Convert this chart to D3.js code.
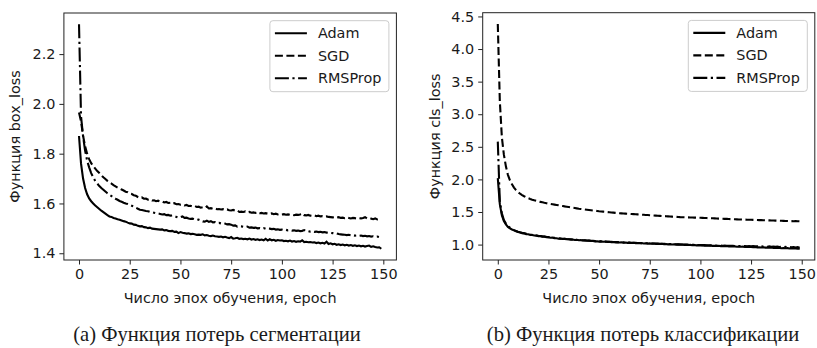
<!DOCTYPE html>
<html>
<head>
<meta charset="utf-8">
<script src="https://cdn.jsdelivr.net/npm/d3@7"></script>
<style>
  body { margin: 0; background: #fff; }
  text { font-family: "DejaVu Sans", sans-serif; fill: #1a1a1a; }
  .caption { font-family: "Liberation Serif", "DejaVu Serif", serif; }
</style>
</head>
<body>
<div id="chart"></div>
<script>
// эпохи 0..149
var epochs = d3.range(0, 150);
var xTicks = [0, 25, 50, 75, 100, 125, 150];
var seriesNames = ["Adam", "SGD", "RMSProp"];

// (a) box_loss
var adamBox = [
1.871,1.760,1.700,1.662,1.637,1.620,1.609,1.600,1.592,1.585,
1.578,1.571,1.565,1.559,1.553,1.548,1.546,1.542,1.540,1.537,
1.535,1.532,1.529,1.527,1.523,1.520,1.519,1.515,1.514,1.510,
1.508,1.509,1.505,1.504,1.501,1.503,1.499,1.498,1.497,1.496,
1.495,1.496,1.492,1.493,1.490,1.489,1.490,1.486,1.487,1.481,
1.485,1.482,1.481,1.479,1.480,1.477,1.478,1.476,1.474,1.475,
1.474,1.476,1.472,1.473,1.470,1.469,1.471,1.468,1.467,1.466,
1.467,1.464,1.466,1.463,1.461,1.465,1.459,1.460,1.462,1.458,
1.459,1.457,1.458,1.456,1.459,1.455,1.457,1.454,1.456,1.453,
1.455,1.452,1.458,1.451,1.456,1.452,1.454,1.450,1.453,1.451,
1.452,1.449,1.450,1.448,1.451,1.447,1.449,1.446,1.448,1.447,
1.452,1.445,1.446,1.444,1.445,1.443,1.444,1.441,1.443,1.440,
1.442,1.439,1.446,1.437,1.440,1.436,1.438,1.434,1.436,1.433,
1.435,1.432,1.434,1.431,1.433,1.430,1.432,1.429,1.431,1.428,
1.430,1.427,1.429,1.431,1.426,1.428,1.425,1.423,1.424,1.418];

var sgdBox = [
1.965,1.930,1.872,1.830,1.800,1.778,1.762,1.750,1.740,1.730,
1.722,1.713,1.705,1.698,1.691,1.685,1.680,1.674,1.669,1.664,
1.660,1.656,1.652,1.647,1.645,1.640,1.638,1.633,1.631,1.626,
1.622,1.624,1.619,1.620,1.615,1.617,1.612,1.613,1.609,1.611,
1.607,1.608,1.604,1.606,1.602,1.603,1.598,1.601,1.597,1.598,
1.595,1.596,1.592,1.594,1.590,1.591,1.588,1.590,1.586,1.587,
1.583,1.585,1.582,1.588,1.580,1.581,1.578,1.580,1.577,1.578,
1.576,1.577,1.574,1.576,1.573,1.572,1.574,1.571,1.573,1.566,
1.567,1.566,1.568,1.564,1.566,1.563,1.564,1.562,1.565,1.561,
1.562,1.560,1.561,1.559,1.558,1.560,1.557,1.559,1.556,1.558,
1.556,1.557,1.555,1.556,1.554,1.555,1.553,1.555,1.554,1.556,
1.560,1.553,1.552,1.554,1.551,1.550,1.552,1.549,1.551,1.548,
1.549,1.547,1.548,1.546,1.545,1.544,1.546,1.543,1.545,1.542,
1.543,1.541,1.544,1.542,1.540,1.542,1.541,1.539,1.541,1.540,
1.542,1.545,1.540,1.538,1.539,1.537,1.540,1.536,1.538,1.539];

var rmsBox = [
2.320,1.950,1.870,1.812,1.772,1.745,1.722,1.705,1.690,1.680,
1.670,1.662,1.655,1.648,1.641,1.635,1.630,1.624,1.619,1.615,
1.610,1.607,1.603,1.600,1.598,1.595,1.591,1.587,1.583,1.579,
1.575,1.574,1.572,1.570,1.569,1.566,1.565,1.563,1.561,1.560,
1.558,1.556,1.557,1.553,1.554,1.551,1.552,1.549,1.546,1.543,
1.545,1.548,1.542,1.543,1.540,1.538,1.539,1.536,1.534,1.535,
1.532,1.528,1.527,1.531,1.526,1.529,1.524,1.525,1.521,1.522,
1.520,1.518,1.519,1.516,1.517,1.515,1.511,1.512,1.507,1.509,
1.508,1.506,1.505,1.507,1.503,1.504,1.502,1.503,1.500,1.501,
1.499,1.501,1.498,1.500,1.499,1.497,1.498,1.495,1.496,1.494,
1.495,1.493,1.494,1.492,1.493,1.491,1.492,1.490,1.491,1.489,
1.490,1.493,1.488,1.489,1.487,1.488,1.486,1.487,1.485,1.486,
1.484,1.485,1.483,1.484,1.482,1.481,1.479,1.480,1.477,1.476,
1.475,1.474,1.473,1.474,1.472,1.473,1.471,1.472,1.470,1.471,
1.469,1.470,1.468,1.469,1.467,1.468,1.466,1.467,1.465,1.466];
var boxTicks = [1.4, 1.6, 1.8, 2.0, 2.2];

// (b) cls_loss
var adamCls = [
2.020,1.620,1.450,1.362,1.310,1.272,1.250,1.232,1.218,1.204,
1.192,1.187,1.176,1.172,1.161,1.158,1.149,1.148,1.139,1.138,
1.130,1.130,1.122,1.122,1.113,1.113,1.105,1.106,1.098,1.098,
1.090,1.092,1.086,1.087,1.081,1.082,1.076,1.078,1.071,1.073,
1.066,1.068,1.062,1.064,1.058,1.060,1.054,1.056,1.050,1.052,
1.046,1.049,1.043,1.046,1.040,1.043,1.037,1.040,1.034,1.037,
1.032,1.035,1.029,1.032,1.027,1.030,1.024,1.027,1.022,1.025,
1.020,1.023,1.017,1.020,1.015,1.018,1.013,1.016,1.011,1.014,
1.009,1.012,1.006,1.009,1.004,1.007,1.002,1.005,1.000,1.003,
0.997,1.000,0.995,0.998,0.993,0.996,0.991,0.994,0.988,0.991,
0.986,0.989,0.984,0.987,0.982,0.985,0.980,0.983,0.978,0.981,
0.976,0.979,0.974,0.977,0.972,0.975,0.970,0.973,0.968,0.971,
0.966,0.969,0.964,0.967,0.962,0.964,0.959,0.962,0.957,0.960,
0.955,0.958,0.953,0.956,0.951,0.954,0.949,0.952,0.947,0.950,
0.945,0.948,0.943,0.946,0.941,0.944,0.939,0.941,0.936,0.936];

var sgdCls = [
4.385,3.200,2.650,2.380,2.200,2.070,1.985,1.925,1.875,1.835,
1.805,1.780,1.760,1.742,1.726,1.712,1.700,1.689,1.679,1.670,
1.662,1.655,1.648,1.641,1.635,1.629,1.623,1.618,1.613,1.608,
1.603,1.597,1.592,1.586,1.581,1.576,1.571,1.566,1.561,1.556,
1.551,1.547,1.543,1.539,1.535,1.531,1.527,1.523,1.519,1.515,
1.511,1.508,1.505,1.502,1.499,1.496,1.493,1.490,1.487,1.484,
1.481,1.479,1.477,1.475,1.473,1.471,1.469,1.467,1.465,1.463,
1.461,1.459,1.457,1.455,1.453,1.451,1.449,1.447,1.445,1.443,
1.441,1.439,1.437,1.435,1.433,1.431,1.429,1.427,1.425,1.423,
1.421,1.420,1.419,1.418,1.417,1.416,1.415,1.414,1.413,1.412,
1.411,1.410,1.408,1.407,1.406,1.404,1.403,1.402,1.400,1.399,
1.398,1.396,1.395,1.394,1.392,1.391,1.390,1.388,1.387,1.386,
1.385,1.384,1.383,1.382,1.381,1.380,1.379,1.378,1.377,1.376,
1.375,1.374,1.373,1.372,1.371,1.370,1.369,1.368,1.367,1.366,
1.365,1.364,1.363,1.362,1.361,1.360,1.359,1.360,1.358,1.357];

var rmsCls = [
2.580,1.660,1.480,1.378,1.322,1.285,1.258,1.240,1.222,1.210,
1.198,1.188,1.180,1.175,1.166,1.160,1.154,1.150,1.144,1.140,
1.134,1.131,1.126,1.123,1.118,1.114,1.110,1.106,1.103,1.099,
1.095,1.092,1.090,1.088,1.085,1.083,1.081,1.078,1.076,1.073,
1.071,1.069,1.066,1.065,1.062,1.061,1.058,1.057,1.054,1.053,
1.051,1.049,1.048,1.046,1.045,1.043,1.042,1.040,1.039,1.038,
1.036,1.035,1.034,1.032,1.032,1.030,1.029,1.028,1.027,1.025,
1.025,1.023,1.022,1.021,1.020,1.018,1.018,1.016,1.016,1.014,
1.014,1.012,1.012,1.010,1.010,1.008,1.008,1.006,1.006,1.004,
1.003,1.002,1.001,1.000,0.999,0.998,0.998,0.996,0.996,0.994,
0.994,0.992,0.992,0.990,0.990,0.988,0.989,0.986,0.987,0.984,
0.985,0.983,0.984,0.981,0.982,0.980,0.981,0.978,0.980,0.977,
0.979,0.976,0.978,0.975,0.977,0.973,0.976,0.972,0.975,0.970,
0.974,0.969,0.973,0.968,0.972,0.966,0.970,0.965,0.969,0.964,
0.967,0.962,0.966,0.960,0.964,0.958,0.962,0.955,0.960,0.952];
var clsTicks = [1.0, 1.5, 2.0, 2.5, 3.0, 3.5, 4.0, 4.5];

var W = 817, H = 348;
var dashes = ["none", "8,3.5", "14,3.5,2.2,3.5"];

var svg = d3.select("#chart").append("svg")
  .attr("width", W).attr("height", H);

function panel(opt) {
  var all = opt.series.reduce((a, s) => a.concat(s), []);
  var lo = d3.min(all), hi = d3.max(all), pad = (hi - lo) * 0.05;

  var x = d3.scaleLinear().domain([-7.45, 156.45]).range([opt.left, opt.right]);
  var y = d3.scaleLinear().domain([lo - pad, hi + pad]).range([opt.bottom, opt.top]);

  var g = svg.append("g");

  var xAxis = d3.axisBottom(x).tickValues(xTicks).tickSize(4.5).tickPadding(4);
  var yAxis = d3.axisLeft(y).tickValues(opt.yTicks).tickSize(4.5).tickPadding(4)
    .tickFormat(d3.format(".1f"));

  g.append("g").attr("transform", "translate(0," + opt.bottom + ")").call(xAxis);
  g.append("g").attr("transform", "translate(" + opt.left + ",0)").call(yAxis);
  g.selectAll(".domain").remove();
  g.selectAll(".tick line").attr("stroke", "#222").attr("stroke-width", 1);
  g.selectAll(".tick text").attr("font-size", "14.4px")
    .attr("font-family", "DejaVu Sans").attr("fill", "#1a1a1a");

  var line = d3.line().x((d, i) => x(epochs[i])).y(d => y(d));
  opt.series.forEach(function(s, k) {
    g.append("path")
      .attr("d", line(s))
      .attr("fill", "none")
      .attr("stroke", "#000")
      .attr("stroke-width", 2.1)
      .attr("stroke-dasharray", dashes[k]);
  });

  // рамка
  g.append("rect")
    .attr("x", opt.left).attr("y", opt.top)
    .attr("width", opt.right - opt.left).attr("height", opt.bottom - opt.top)
    .attr("fill", "none").attr("stroke", "#222").attr("stroke-width", 1);

  // подписи осей
  g.append("text")
    .attr("x", (opt.left + opt.right) / 2).attr("y", 303)
    .attr("text-anchor", "middle").attr("font-size", "14.4px")
    .text("Число эпох обучения, epoch");
  g.append("text")
    .attr("transform", "translate(" + opt.ylabelX + "," + (opt.top + opt.bottom) / 2 + ") rotate(-90)")
    .attr("text-anchor", "middle").attr("font-size", "14.4px")
    .text(opt.ylabel);

  // легенда
  var lx = opt.right - 7.5 - 119, ly = opt.top + 7.7;
  var lg = g.append("g");
  lg.append("rect")
    .attr("x", lx).attr("y", ly).attr("width", 119).attr("height", 71)
    .attr("rx", 3).attr("fill", "#fff").attr("fill-opacity", 0.8)
    .attr("stroke", "#ccc").attr("stroke-width", 1);
  seriesNames.forEach(function(name, k) {
    var cy = ly + 12.5 + k * 22.5;
    lg.append("line")
      .attr("x1", lx + 5).attr("x2", lx + 37).attr("y1", cy).attr("y2", cy)
      .attr("stroke", "#000").attr("stroke-width", 2.1)
      .attr("stroke-dasharray", dashes[k]);
    lg.append("text")
      .attr("x", lx + 48).attr("y", cy + 5)
      .attr("font-size", "14.4px")
      .text(name);
  });

  // подпись рисунка
  svg.append("text").attr("class", "caption")
    .attr("x", opt.captionX).attr("y", 341)
    .attr("text-anchor", "middle").attr("font-size", "20.6px")
    .text(opt.caption);
}

panel({
  left: 63.9, right: 396.4, top: 13, bottom: 260,
  series: [adamBox, sgdBox, rmsBox], yTicks: boxTicks,
  ylabel: "Функция box_loss", ylabelX: 20,
  caption: "(a) Функция потерь сегментации", captionX: 217
});
panel({
  left: 482.7, right: 814.8, top: 12.7, bottom: 260,
  series: [adamCls, sgdCls, rmsCls], yTicks: clsTicks,
  ylabel: "Функция cls_loss", ylabelX: 440,
  caption: "(b) Функция потерь классификации", captionX: 643
});
</script>
</body>
</html>
